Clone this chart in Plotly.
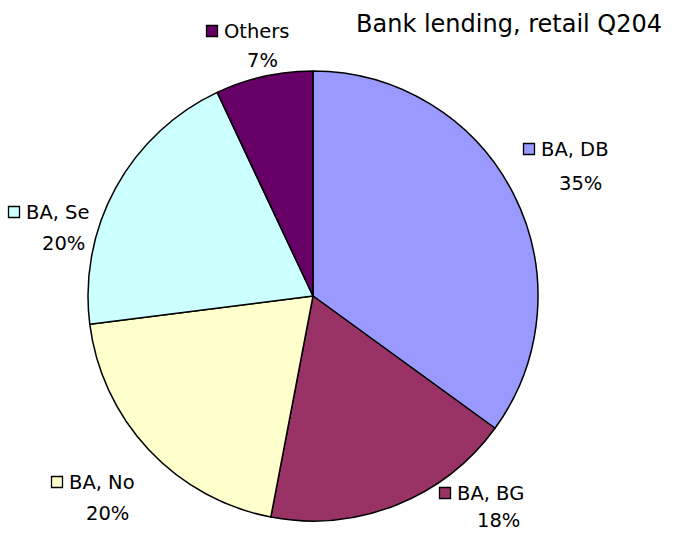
import plotly.graph_objects as go

# Retail bank lending shares, Q2 2004
labels = ["BA, DB", "BA, BG", "BA, No", "BA, Se", "Others"]
shares = [35, 18, 20, 20, 7]
colors = ["#9999FF", "#993366", "#FFFFCC", "#CCFFFF", "#660066"]

W, H = 677, 534
FONT = "DejaVu Sans"

# label anchor points (pixels): key square centre, percent centre
key_pos = [(529, 149), (445, 493), (57, 482), (14, 212), (212, 31)]
pct_pos = [(580, 183), (498, 520), (107, 513), (63, 243), (262, 61)]


def px(x):
    return x / W


def py(y):
    return 1 - y / H


cx, cy, r = 313, 296, 225

fig = go.Figure(
    go.Pie(
        labels=labels,
        values=shares,
        sort=False,
        direction="clockwise",
        rotation=0,
        textinfo="none",
        hoverinfo="label+percent",
        marker=dict(colors=colors, line=dict(color="#000000", width=1.5)),
        domain=dict(x=[px(cx - r), px(cx + r)], y=[py(cy + r), py(cy - r)]),
        showlegend=False,
    )
)

annotations = []
shapes = []
for lab, val, col, (kx, ky), (qx, qy) in zip(labels, shares, colors, key_pos, pct_pos):
    s = 5.5
    shapes.append(dict(
        type="rect", xref="paper", yref="paper",
        x0=px(kx - s), x1=px(kx + s), y0=py(ky + s), y1=py(ky - s),
        fillcolor=col, line=dict(color="#000000", width=1.3),
    ))
    annotations.append(dict(
        text=lab, xref="paper", yref="paper", x=px(kx + 10), y=py(ky),
        xanchor="left", yanchor="middle", showarrow=False,
        font=dict(family=FONT, size=19.5, color="#000000"),
    ))
    annotations.append(dict(
        text=f"{val}%", xref="paper", yref="paper", x=px(qx), y=py(qy),
        xanchor="center", yanchor="middle", showarrow=False, borderpad=0,
        font=dict(family=FONT, size=19.5, color="#000000"),
    ))

annotations.append(dict(
    text="Bank lending, retail Q204", xref="paper", yref="paper",
    x=px(664), y=py(24), xanchor="right", yanchor="middle", showarrow=False,
    font=dict(family=FONT, size=24, color="#000000"),
))

fig.update_layout(
    width=W, height=H,
    margin=dict(l=0, r=0, t=0, b=0),
    paper_bgcolor="#FFFFFF",
    plot_bgcolor="#FFFFFF",
    annotations=annotations,
    shapes=shapes,
)

fig.write_html("out.html")
